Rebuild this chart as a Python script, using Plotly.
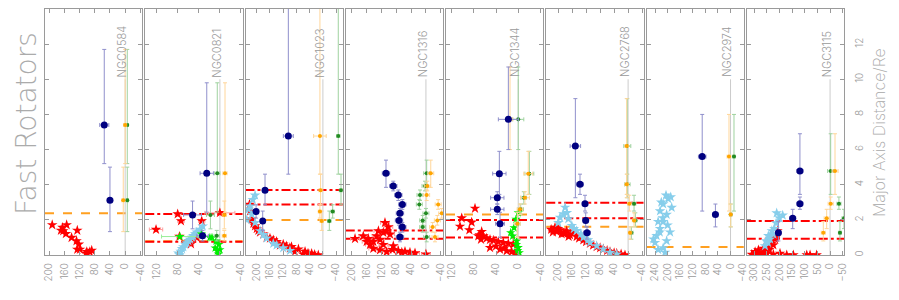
import plotly.graph_objects as go
from plotly.subplots import make_subplots

galaxies = ["NGC0584", "NGC0821", "NGC1023", "NGC1316", "NGC1344", "NGC2768", "NGC2974", "NGC3115"]
x_ranges = [[211, -45], [142, -43], [234, -60], [216, -46], [130, -45], [234, -44], [267, -42], [329, -55]]
x_tickvals = [
    [200, 160, 120, 80, 40, 0, -40],
    [120, 80, 40, 0, -40],
    [200, 160, 120, 80, 40, 0, -40],
    [200, 160, 120, 80, 40, 0, -40],
    [120, 80, 40, 0, -40],
    [200, 160, 120, 80, 40, 0, -40],
    [240, 200, 160, 120, 80, 40, 0, -40],
    [300, 250, 200, 150, 100, 50, 0, -50],
]
y_tickvals = [0, 2, 4, 6, 8, 10, 12, 14]

# radial bins (Re) shared by the navy / orange / green points
bin_r = [
    [7.4, 3.11],
    [4.65, 2.28, 1.09],
    [6.77, 3.68, 2.47, 1.93],
    [4.65, 3.93, 3.41, 2.88, 2.37, 1.97, 1.59, 1.02],
    [7.72, 4.63, 3.26, 2.6, 1.78],
    [6.2, 4.02, 2.92, 1.97, 1.27],
    [5.6, 2.3],
    [4.78, 2.92, 2.09, 1.27],
]
bin_rlo = [
    [5.2, 1.33],
    [2.44, 1.49, 0.8],
    [4.6, 2.86, 2.1, 1.4],
    [3.85, 3.65, 3.1, 2.6, 2.1, 1.7, 1.3, 0.75],
    [6.0, 3.45, 2.9, 2.3, 1.0],
    [3.26, 3.45, 2.5, 1.6, 0.9],
    [2.5, 1.6],
    [3.45, 2.6, 1.5, 0.8],
]
bin_rhi = [
    [11.7, 5.0],
    [9.8, 3.07, 1.4],
    [16.0, 4.6, 2.86, 2.5],
    [5.4, 4.2, 3.7, 3.15, 2.65, 2.25, 1.85, 1.3],
    [10.7, 5.9, 3.6, 2.9, 2.43],
    [8.9, 4.6, 3.4, 2.4, 1.6],
    [8.0, 2.9],
    [6.9, 3.3, 2.6, 1.9],
]
navy_v = [
    [55, 40],
    [25, 52, 33],
    [104.5, 175, 202, 182],
    [107.6, 88, 74.4, 63.6, 70, 72.5, 63.6, 70],
    [17.8, 34, 37.7, 37.7, 32.8],
    [150.8, 137.5, 123.2, 121.2, 117.5],
    [90, 48],
    [119, 119, 147.6, 204],
]
navy_ex = [
    [12, 7],
    [12.7, 17, 11],
    [15, 6, 6, 6],
    [10, 10, 10, 10, 10, 10, 10, 10],
    [18, 12, 12, 12, 8],
    [15, 10, 8, 8, 10],
    [12, 8],
    [12, 12, 12, 10],
]
orange_v = [
    [0, 5],
    [-9.7, -8.4, -8.4],
    [9, 7, 9, 3.6],
    [-13, -3.6, -2, -33, -42.5, -30.7, -18, -24.4],
    [14.8, -18, -12, -3, 1.6],
    [4, 4, -3.5, -17, -5.5],
    [4.9, -0.5],
    [-19.5, -2.4, 13.4, 26.7],
]
orange_ex = [
    [4, 4],
    [4, 4, 4],
    [19, 5, 5, 5],
    [8, 8, 8, 8, 8, 8, 8, 8],
    [5, 8, 8, 5, 5],
    [5, 5, 5, 5, 5],
    [6, 4],
    [12, 10, 10, 8],
]
green_v = [
    [-5.6, -5.6],
    [5, 18, 6],
    [-46.5, -54.7, -29.6, -19.4],
    [-2, 2.5, 16, 17.8, 0, 8.7, 8.7, -2],
    [0, -20, -10, -4.4, 1.6],
    [2.3, 2.3, -17, -20.7, -9.3],
    [-11, -0.5],
    [-2.4, -35, -55, -39],
]
green_ex = [
    [3, 3],
    [5, 7.6, 5],
    [5, 5, 5, 5],
    [8, 8, 8, 8, 8, 8, 8, 8],
    [10, 8, 5, 5, 5],
    [10, 8, 5, 5, 5],
    [4, 4],
    [12, 8, 8, 6],
]

red_v = [
    [192, 165, 163, 169, 156, 126, 141, 128, 122, 126, 101, 93, 88, 103, 119, 154],
    [0, 34.6, 74, 80.3, 121.5, 77, 58, 55, 44],
    [14, 34, 54, 74, 95, 120, 140, 160, 180, 195, 205, 215, 220, 222, 100, 130, 150, 170, 190, 60, 85, 110, 200, 210, 45, 25],
    [191, 168.7, 155.2, 141.8, 132.8, 123.7, 114.8, 105.8, 101.4, 110.3, 96.8, 87.9, 74.4, 56.4, 43, 29.4, 0, 141.8, 123.7, 105.8, 150.7, 159.7, 128, 114.8, 90, 65],
    [77.8, 101.7, 83.8, 104.8, 88, 65.8, 69.4, 62.9, 56.8, 50.8, 44.9, 35.9, 26.9, 17.9, 8.9, 67, 71.9, 50.8, 32.8, 20.8, 11.8, 5.8, 40, 25],
    [209, 194.7, 175.6, 156.6, 204, 185, 147, 128, 109, 89.8, 71, 51.7, 32.6, 8.9, 166, 220, 200, 180, 140, 120, 100, 80, 60, 40, 20, 215, 190, 170],
    [],
    [296, 283, 263.5, 243.7, 230.6, 217.5, 210.8, 208, 224, 250, 276.7, 224, 197.7, 171, 145, 92, 79, 53, 309, 290, 270, 255, 240, 260, 280, 235, 215],
]
red_r = [
    [1.71, 1.56, 1.37, 1.40, 1.21, 1.40, 0.99, 0.80, 0.61, 0.32, 0.18, 0.18, 0.26, 0.09, 0.32, 1.71],
    [2.4, 1.94, 1.94, 2.33, 1.45, 1.05, 0.79, 0.63, 0.99],
    [0, 0.08, 0.2, 0.33, 0.47, 0.61, 0.76, 0.95, 1.18, 1.4, 1.65, 2.03, 2.5, 2.88, 0.4, 0.55, 0.85, 1.0, 1.3, 0.05, 0.2, 0.5, 1.5, 1.8, 0.1, 0.02],
    [0.93, 1.08, 0.93, 0.76, 1.08, 0.87, 0.59, 1.37, 1.6, 1.84, 1.18, 0.52, 0.24, 0.2, 0.15, 0.11, 0.05, 0.37, 0.28, 0.18, 0.59, 0.76, 1.37, 1.28, 0.3, 0.15],
    [2.65, 2.1, 1.86, 1.63, 1.42, 1.33, 1.14, 1.08, 0.95, 0.87, 0.83, 0.76, 0.7, 0.65, 0.61, 0.89, 1.08, 0.42, 0.32, 0.23, 0.18, 0.13, 0.5, 0.4],
    [1.56, 1.42, 1.37, 1.33, 1.33, 1.23, 1.04, 0.85, 0.66, 0.47, 0.33, 0.18, 0.09, 0.0, 1.14, 1.45, 1.5, 1.25, 0.95, 0.75, 0.55, 0.4, 0.25, 0.12, 0.05, 1.3, 1.2, 1.05],
    [],
    [0.18, 0.28, 0.37, 0.47, 0.66, 0.91, 1.14, 1.37, 0.57, 0.09, 0.03, 0.03, 0.09, 0, 0, 0, 0, 0, 0.03, 0.05, 0.12, 0.2, 0.3, 0.08, 0.1, 0.75, 1.0],
]
red_ex = [
    None,
    [28.5, 6, 6, 5, 12.7, 5, 5, 5, 5],
    None,
    [12] * 26,
    None,
    [6] * 28,
    None,
    None,
]

blue_v = [
    [],
    [77, 74.6, 69.6, 63, 57, 50.6, 44, 38, 32.7, 79, 72, 66, 60, 53, 47],
    [99.5, 120, 150, 170, 190, 205, 215, 220, 212, 205, 230, 225, 140, 180],
    [],
    [],
    [185, 180, 194.7, 171, 161, 147, 128, 109, 89.8, 71, 51.7, 32.6, 199.5, 175, 155, 135, 115],
    [198, 214, 224, 203, 187, 214, 224, 235, 240, 230, 214, 203, 192, 208, 220, 200, 230, 245, 190, 205, 215, 225],
    [210.8, 187, 213, 230, 243.7, 253, 237, 224, 257, 220, 200, 245],
]
blue_r = [
    [],
    [0.0, 0.2, 0.46, 0.69, 0.89, 1.09, 1.29, 1.45, 1.64, 0.1, 0.35, 0.6, 0.8, 1.0, 1.2],
    [0.25, 0.4, 0.65, 0.95, 1.37, 1.84, 2.3, 2.77, 3.15, 3.4, 2.0, 2.6, 0.55, 1.15],
    [],
    [],
    [2.33, 2.71, 2.14, 2.05, 1.67, 1.38, 1.0, 0.71, 0.52, 0.33, 0.14, 0.04, 1.84, 2.4, 1.5, 1.2, 0.85],
    [3.2, 2.9, 2.5, 2.3, 2.7, 1.9, 1.5, 1.1, 0.7, 0.3, 0.4, 0.8, 1.3, 0.15, 3.0, 1.7, 1.9, 0.9, 3.3, 3.4, 2.1, 1.3],
    [2.39, 2.26, 1.82, 1.37, 1.09, 0.8, 0.9, 1.18, 0.52, 1.5, 2.1, 0.7],
]

lime_v = [
    [],
    [19, 15, 7.4, 9, 4.7, 3, 35, 76, 0, 2],
    [],
    [],
    [0, 4, 7.6, 13.6, 10, 2.8, 0, -1.9, 3, 1],
    [],
    [],
    [],
]
lime_r = [
    [],
    [0.99, 0.99, 0.79, 0.4, 0.22, 0.05, 1.19, 1.05, 0.3, 0.6],
    [],
    [],
    [2.4, 2.03, 1.55, 1.27, 1.08, 0.8, 0.42, 0.13, 0.6, 0.25],
    [],
    [],
    [],
]
lime_ex = [
    [],
    [3, 3, 3, 3, 3, 3, 5, 35, 3, 3],
    [],
    [],
    [2, 2, 2, 2, 2, 2, 2, 2, 2, 2],
    [],
    [],
    [],
]

orange_cut = [[2.37], [0.78], [1.99], [], [2.31], [1.61], [0.45], []]
red_cut = [[], [2.33, 0.75], [3.70, 2.88], [1.40, 0.93], [1.99, 0.99], [2.98, 2.09], [], [1.94, 0.93]]
name_level = 10

GRAY = "#9a9a9a"
FONT = "Inter"

# page body adds an 8px offset; plot area in the window spans x 45..844, y 9..255
PL, PR, PT, PB = 45, 844, 9, 255


def px(X):
    return (X - PL) / (PR - PL)


def py(Y):
    return (PB - Y) / (PB - PT)


fig = make_subplots(rows=1, cols=8, shared_yaxes=True, horizontal_spacing=3 / 799)

for i in range(8):
    c = i + 1
    rr = bin_r[i]
    up = [h - r for h, r in zip(bin_rhi[i], rr)]
    dn = [r - l for l, r in zip(bin_rlo[i], rr)]
    if red_v[i]:
        ex = dict(type="data", array=red_ex[i], color="#ff9c9c", thickness=1, width=2) if red_ex[i] else None
        fig.add_trace(go.Scatter(x=red_v[i], y=red_r[i], mode="markers",
                                 marker=dict(symbol="star", size=8, color="#ff0000", line=dict(width=0)),
                                 error_x=ex, showlegend=False), row=1, col=c)
    if blue_v[i]:
        fig.add_trace(go.Scatter(x=blue_v[i], y=blue_r[i], mode="markers",
                                 marker=dict(symbol="star", size=8, color="#87ceeb", line=dict(width=0)),
                                 showlegend=False), row=1, col=c)
    if lime_v[i]:
        fig.add_trace(go.Scatter(x=lime_v[i], y=lime_r[i], mode="markers",
                                 marker=dict(symbol="star", size=7, color="#00ee00", line=dict(width=0)),
                                 error_x=dict(type="data", array=lime_ex[i], color="#99ee99", thickness=1, width=2),
                                 showlegend=False), row=1, col=c)
    fig.add_trace(go.Scatter(x=green_v[i], y=rr, mode="markers",
                             marker=dict(symbol="circle", size=4, color="#228b22"),
                             error_x=dict(type="data", array=green_ex[i], color="#9fd29f", thickness=1, width=2),
                             error_y=dict(type="data", symmetric=False, array=up, arrayminus=dn,
                                          color="#9fd29f", thickness=1, width=2),
                             showlegend=False), row=1, col=c)
    fig.add_trace(go.Scatter(x=orange_v[i], y=rr, mode="markers",
                             marker=dict(symbol="circle", size=4, color="#ffa500"),
                             error_x=dict(type="data", array=orange_ex[i], color="#ffd69a", thickness=1, width=2),
                             error_y=dict(type="data", symmetric=False, array=up, arrayminus=dn,
                                          color="#ffd69a", thickness=1, width=2),
                             showlegend=False), row=1, col=c)
    fig.add_trace(go.Scatter(x=navy_v[i], y=rr, mode="markers",
                             marker=dict(symbol="circle", size=7, color="#000080"),
                             error_x=dict(type="data", array=navy_ex[i], color="#9090cc", thickness=1, width=2),
                             error_y=dict(type="data", symmetric=False, array=up, arrayminus=dn,
                                          color="#9090cc", thickness=1, width=2),
                             showlegend=False), row=1, col=c)

    xref = "x" if c == 1 else f"x{c}"
    yref = "y" if c == 1 else f"y{c}"
    fig.add_shape(type="line", xref=xref, yref=yref, x0=0, x1=0, y0=0, y1=name_level,
                  line=dict(color="#cccccc", width=1), layer="below")
    for v in orange_cut[i]:
        fig.add_shape(type="line", xref=f"{xref} domain", yref=yref, x0=0, x1=1, y0=v, y1=v,
                      line=dict(color="#ffa020", width=2, dash="dash"), layer="below")
    for v in red_cut[i]:
        fig.add_shape(type="line", xref=f"{xref} domain", yref=yref, x0=0, x1=1, y0=v, y1=v,
                      line=dict(color="#ff0000", width=2, dash="dashdot"), layer="below")
    fig.add_annotation(xref=xref, yref=yref, x=0, y=name_level, text=galaxies[i], textangle=-90,
                       showarrow=False, xanchor="center", yanchor="bottom", xshift=-3,
                       font=dict(family=FONT, size=11, color=GRAY, weight=300))

    fig.update_xaxes(range=x_ranges[i], tickvals=x_tickvals[i], tickangle=-90, automargin=False,
                     ticks="inside", ticklen=4, tickcolor=GRAY, showline=True, linecolor=GRAY,
                     linewidth=1, mirror="ticks", showgrid=False, zeroline=False, ticklabelstandoff=3,
                     tickfont=dict(family=FONT, size=10, color=GRAY, weight=300), row=1, col=c)
    fig.update_yaxes(range=[0, 14], tickvals=y_tickvals, ticks="inside", ticklen=4, tickcolor=GRAY,
                     showline=True, linecolor=GRAY, linewidth=1, mirror="ticks", showgrid=False,
                     zeroline=False, showticklabels=False, automargin=False, row=1, col=c)

fig.update_yaxes(side="right", showticklabels=True, tickangle=-90, ticklabelstandoff=6,
                 tickfont=dict(family=FONT, size=10, color=GRAY, weight=300), row=1, col=8)

fig.add_annotation(xref="paper", yref="paper", x=px(26), y=py(124), xanchor="center", yanchor="middle",
                   text="Fast Rotators", textangle=-90, showarrow=False, borderpad=0,
                   font=dict(family="DejaVu Sans", size=28, color="#ababab", weight=200))
fig.add_annotation(xref="paper", yref="paper", x=px(879), y=py(133), xanchor="center", yanchor="middle",
                   text="Major Axis Distance/Re", textangle=-90, showarrow=False,
                   font=dict(family=FONT, size=16, color="#a8a8a8", weight=200))

fig.update_layout(width=891, height=293,
                  margin=dict(l=PL - 8, r=891 - (PR - 8), t=PT - 8, b=293 - (PB - 8), autoexpand=False),
                  plot_bgcolor="white", paper_bgcolor="white")

fig.write_html("out.html")
